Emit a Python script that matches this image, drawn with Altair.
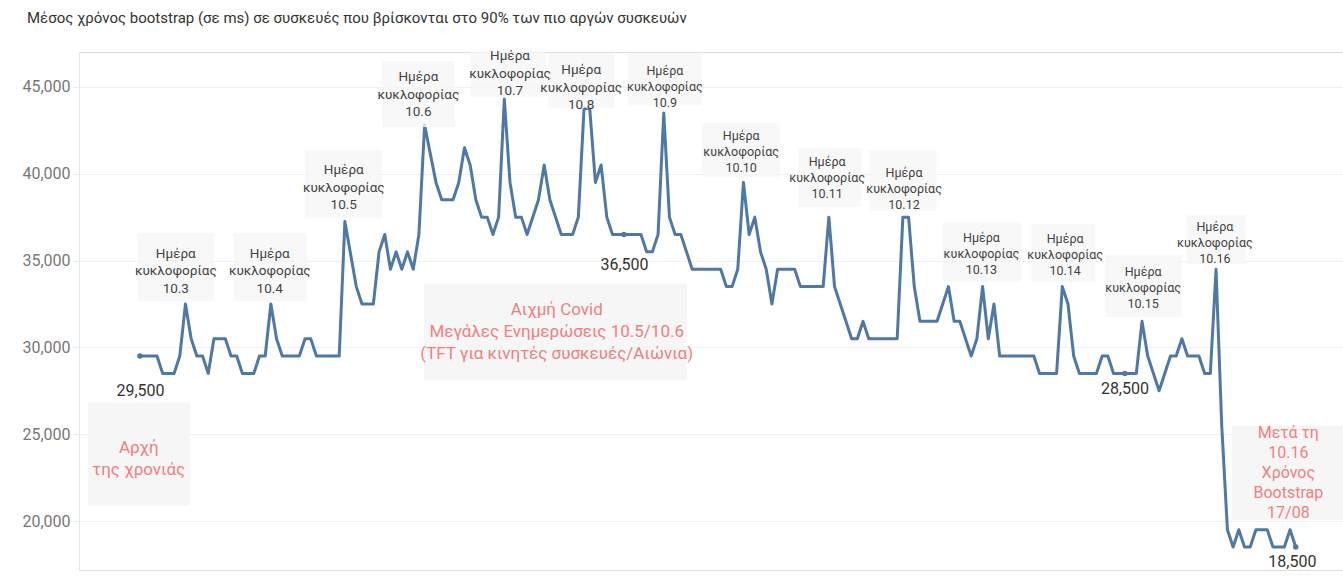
import altair as alt
import pandas as pd

TITLE = "Μέσος χρόνος bootstrap (σε ms) σε συσκευές που βρίσκονται στο 90% των πιο αργών συσκευών"

# line vertices (day index, ms)
day = [0, 3, 4, 6, 7, 8, 9, 10, 11, 12, 13, 15, 16, 17, 18, 20, 21, 22, 23, 24, 25, 28, 29, 30, 31, 35, 36,
       38, 39, 41, 42, 43, 44, 45, 46, 47, 48, 49, 50, 52, 53, 55, 56, 57, 58, 59, 60, 61, 62, 63, 64, 65,
       66, 67, 68, 70, 71, 72, 74, 76, 77, 78, 79, 80, 81, 82, 83, 88, 89, 90, 91, 92, 93, 94, 95, 97,
       102, 103, 104, 105, 106, 107, 108, 109, 110, 111, 112, 115, 116, 120, 121, 122, 123, 124, 125,
       126, 127, 128, 133, 134, 135, 136, 137, 140, 141, 142, 143, 144, 145, 146, 147, 148, 149, 150,
       151, 157, 158, 161, 162, 163, 164, 165, 168, 169, 170, 171, 175, 176, 177, 179, 181, 182, 183,
       184, 186, 187, 188, 189, 190, 191, 192, 193, 194, 195, 196, 198, 199, 201, 202, 203]
ms = [29500, 29500, 28500, 28500, 29500, 32500, 30500, 29500, 29500, 28500, 30500, 30500, 29500, 29500,
      28500, 28500, 29500, 29500, 32500, 30500, 29500, 29500, 30500, 30500, 29500, 29500, 37250,
      33500, 32500, 32500, 35500, 36500, 34500, 35500, 34500, 35500, 34500, 36500, 42800, 39500, 38500,
      38500, 39500, 41500, 40500, 38500, 37500, 37500, 36500, 37500, 44300, 39500,
      37500, 37500, 36500, 38500, 40500, 38500, 36500, 36500, 37500, 43750, 43750, 39500, 40500, 37500,
      36500, 36500, 35500, 35500, 36500, 43500, 37500, 36500, 36500, 34500,
      34500, 33500, 33500, 34500, 39500, 36500, 37500, 35500, 34500, 32500, 34500, 34500, 33500, 33500,
      37500, 33500, 32500, 31500, 30500,
      30500, 31500, 30500, 30500, 37500, 37500, 33500, 31500, 31500, 32500, 33500, 31500, 31500, 30500,
      29500, 30500, 33500, 30500, 32500,
      29500, 29500, 28500, 28500, 33500, 32500, 29500, 28500, 28500, 29500, 29500, 28500, 28500, 31500,
      29500, 27500, 29500, 29500, 30500,
      29500, 29500, 28500, 28500, 34500, 25500, 19500, 18500, 19500, 18500, 18500, 19500, 19500, 18500,
      18500, 19500, 18500]

# release annotations
releases = ["10.3", "10.4", "10.5", "10.6", "10.7", "10.8", "10.9", "10.10", "10.11", "10.12",
            "10.13", "10.14", "10.15", "10.16"]
rel_box_x1 = [-0.4, 16.5, 29.0, 42.5, 58.1, 71.7, 85.7, 98.7, 115.7, 128.1, 141.0, 156.6, 169.5, 183.9]
rel_box_x2 = [13.0, 29.3, 42.5, 55.3, 71.3, 83.4, 98.5, 112.4, 126.6, 139.9, 154.7, 167.8, 183.0, 194.1]
rel_box_top = [36566, 36566, 41347, 46491, 47009, 46952, 46952, 42902, 41462, 41347, 37217, 37085, 35299, 37603]
rel_box_bot = [32667, 32667, 37430, 42689, 44400, 43766, 43939, 39809, 38081, 37851, 33761, 33761, 31745, 34781]
rel_text_x = [6.3, 22.8, 35.8, 48.9, 65.0, 77.5, 92.2, 105.6, 120.7, 134.2, 147.8, 162.5, 176.2, 188.8]
rel_text_y = [35789, 35789, 40610, 45967, 47176, 46353, 46243, 42540, 41002, 40391, 36647, 36589, 34666, 37298]

# red notes
notes = ["Αρχή\nτης χρονιάς",
         "Αιχμή Covid\nΜεγάλες Ενημερώσεις 10.5/10.6\n(TFT για κινητές συσκευές/Αιώνια)",
         "Μετά τη\n10.16\nΧρόνος\nBootstrap\n17/08"]
note_x = [-0.2, 73.2, 201.7]
note_y = [24672, 32604, 25525]
note_box_x1 = [-9.1, 49.9, 191.8]
note_box_x2 = [8.8, 96.1, 211.3]
note_box_top = [26832, 33669, 25507]
note_box_bot = [20899, 28140, 20075]

# labelled points
dot_x = [0, 85, 173, 203]
dot_v = [29500, 36500, 28500, 18500]
lab_x = [0.1, 85.1, 173.0, 202.4]
lab_y = [27470, 34729, 27627, 17622]

FONT = "Roboto"
BLUE = "#4e79a7"
RED = "#f08080"
BOXFILL = "#f6f6f6"

XS = alt.Scale(domain=[-10.7, 211.3], nice=False, zero=False)
YS = alt.Scale(domain=[17180, 47010], nice=False, zero=False)
YAX = alt.Axis(values=[20000, 25000, 30000, 35000, 40000, 45000], title=None,
               labelExpr="format(datum.value, ',')",
               labelFont=FONT, labelFontSize=16, labelColor="#777777", labelPadding=3,
               domain=True, domainColor="#e6e6e6", ticks=True, tickColor="#e6e6e6", tickSize=6,
               grid=True, gridColor="#efefef")


def X(f):
    return alt.X(f, type="quantitative", scale=XS, axis=None)


def Y(f):
    return alt.Y(f, type="quantitative", scale=YS, axis=YAX)


line_df = pd.DataFrame({"day": day, "ms": ms})
rel_box_df = pd.DataFrame({"x1": rel_box_x1, "x2": rel_box_x2, "y1": rel_box_top, "y2": rel_box_bot})
rel_txt_df = pd.DataFrame({"text": ["Ημέρα\nκυκλοφορίας\n" + r for r in releases],
                           "x": rel_text_x, "y": rel_text_y})
note_box_df = pd.DataFrame({"x1": note_box_x1, "x2": note_box_x2, "y1": note_box_top, "y2": note_box_bot})
note_df = pd.DataFrame({"text": notes, "x": note_x, "y": note_y})
dot_df = pd.DataFrame({"x": dot_x, "v": dot_v, "lx": lab_x, "ly": lab_y})

line = alt.Chart(line_df).mark_line(color=BLUE, strokeWidth=3, strokeJoin="round", strokeCap="round").encode(
    x=X("day"), y=Y("ms"))

note_boxes = alt.Chart(note_box_df).mark_rect(fill=BOXFILL).encode(
    x=X("x1"), x2="x2", y=Y("y1"), y2="y2")

rel_boxes = alt.Chart(rel_box_df).mark_rect(fill=BOXFILL, opacity=0.8).encode(
    x=X("x1"), x2="x2", y=Y("y1"), y2="y2")

rel_a = alt.Chart(rel_txt_df.iloc[:6]).mark_text(
    font=FONT, fontSize=13.5, lineHeight=17.5, lineBreak="\n", color="#444444", align="center",
    baseline="top").encode(x=X("x"), y=Y("y"), text="text:N")
rel_b = alt.Chart(rel_txt_df.iloc[6:]).mark_text(
    font=FONT, fontSize=12.5, lineHeight=16, lineBreak="\n", color="#444444", align="center",
    baseline="top").encode(x=X("x"), y=Y("y"), text="text:N")

notes_big = alt.Chart(note_df.iloc[:2]).mark_text(
    font=FONT, fontSize=17, lineHeight=22, lineBreak="\n", color=RED, align="center",
    baseline="top").encode(x=X("x"), y=Y("y"), text="text:N")
notes_small = alt.Chart(note_df.iloc[2:]).mark_text(
    font=FONT, fontSize=16, lineHeight=20, lineBreak="\n", color=RED, align="center",
    baseline="top").encode(x=X("x"), y=Y("y"), text="text:N")

dots = alt.Chart(dot_df).mark_point(filled=True, size=30, color=BLUE, opacity=1).encode(
    x=X("x"), y=Y("v"))
labels = alt.Chart(dot_df).mark_text(font=FONT, fontSize=16, color="#333333", align="center",
                                     baseline="middle").encode(
    x=X("lx"), y=Y("ly"), text=alt.Text("v:Q", format=","))

chart = alt.layer(note_boxes, line, rel_boxes, rel_a, rel_b, notes_big, notes_small, dots, labels).properties(
    width=1264, height=518,
    title=alt.TitleParams(TITLE, anchor="start", frame="group", dx=-52, offset=23, font=FONT, fontSize=15,
                          fontWeight="normal", color="#333333"),
    autosize=alt.AutoSizeParams(type="none"),
    padding={"left": 79, "top": 52, "right": 0, "bottom": 9},
).configure_view(strokeWidth=0).configure(background="white")

chart.save("out.html", embed_options={"renderer": "svg", "actions": False})
